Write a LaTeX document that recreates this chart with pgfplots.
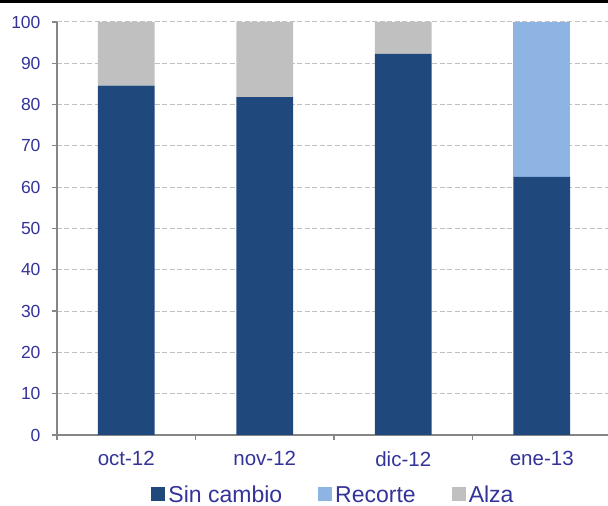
\documentclass[border=0pt]{standalone}
\usepackage{pgfplots}
\pgfplotsset{compat=1.18}
\usepackage{fontspec}
\setmainfont{Liberation Sans}
\definecolor{sincambio}{HTML}{1F497D}
\definecolor{recorte}{HTML}{8EB4E3}
\definecolor{alza}{HTML}{C0C0C0}
\definecolor{txt}{HTML}{333399}
\definecolor{axgray}{HTML}{868686}
\definecolor{gridc}{HTML}{C0C0C0}
\begin{document}
\begin{tikzpicture}
\useasboundingbox (-57pt,-71pt) rectangle (551pt,435pt);
\fill[black] (-57pt,432pt) rectangle (551pt,435pt);
\begin{axis}[
  at={(0pt,0pt)}, anchor=south west,
  scale only axis, width=554pt, height=413pt,
  xmin=-0.5, xmax=3.5, ymin=0, ymax=100,
  ybar stacked, bar width=0.41,
  axis x line*=bottom, axis y line*=left,
  axis line style={axgray, line width=1.2pt},
  xtick={-0.5,0.5,1.5,2.5,3.5},
  x tick label as interval=true,
  xticklabels={oct-12,nov-12,dic-12,ene-13},
  ytick={0,10,...,100},
  tick align=outside, major tick length=5pt,
  tick style={axgray, line width=1.2pt},
  ymajorgrids, xmajorgrids=false,
  grid style={gridc, dash pattern=on 5pt off 2.5pt, line width=1pt},
  xticklabel style={font=\fontsize{20.5}{23}\selectfont, text=txt, yshift=-8pt},
  yticklabel style={font=\fontsize{17.5}{20}\selectfont, text=txt, xshift=-8pt},
  /pgf/number format/assume math mode=true,
  legend style={at={(axis description cs:0.5,0)}, anchor=center, yshift=-60pt,
    draw=none, fill=none, font=\fontsize{23}{25}\selectfont, text=txt,
    /tikz/every even column/.append style={column sep=33pt},
    nodes={inner xsep=3pt, inner ysep=0pt}},
  legend columns=3,
  legend image code/.code={\fill[#1] (0pt,-5.5pt) rectangle (14pt,8.5pt);},
]
\addplot[fill=sincambio, draw=none] coordinates {(0,84.6) (1,81.8) (2,92.3) (3,62.5)};
\addplot[fill=recorte, draw=none] coordinates {(0,0) (1,0) (2,0) (3,37.5)};
\addplot[fill=alza, draw=none] coordinates {(0,15.4) (1,18.2) (2,7.7) (3,0)};
\legend{Sin cambio, Recorte, Alza}
\end{axis}
\end{tikzpicture}
\end{document}
